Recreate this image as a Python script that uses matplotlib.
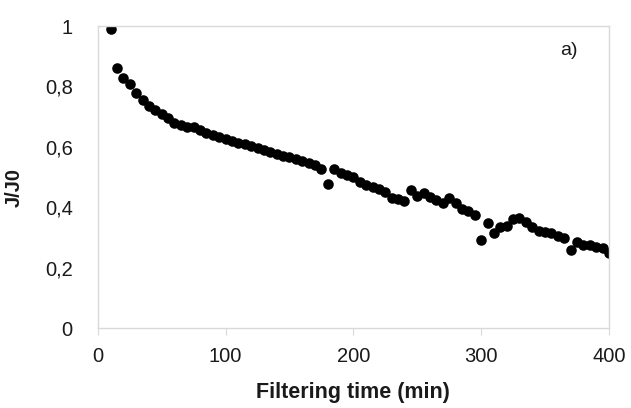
import matplotlib
matplotlib.use("Agg")
import matplotlib.pyplot as plt
from matplotlib.ticker import FuncFormatter

# Data
time_min = [10, 15, 20, 25, 30, 35, 40, 45, 50, 55, 60, 65, 70, 75, 80, 85, 90, 95,
            100, 105, 110, 115, 120, 125, 130, 135, 140, 145, 150, 155, 160, 165, 170,
            175, 180, 185, 190, 195, 200, 205, 210, 215, 220, 225, 230, 235, 240, 245,
            250, 255, 260, 265, 270, 275, 280, 285, 290, 295, 300, 305, 310, 315, 320,
            325, 330, 335, 340, 345, 350, 355, 360, 365, 370, 375, 380, 385, 390, 395, 400]
j_ratio = [0.99, 0.861, 0.828, 0.808, 0.778, 0.755, 0.735, 0.722, 0.71, 0.695, 0.68, 0.672,
           0.665, 0.665, 0.655, 0.646, 0.64, 0.634, 0.626, 0.62, 0.614, 0.608, 0.602, 0.596,
           0.59, 0.582, 0.576, 0.57, 0.565, 0.56, 0.552, 0.545, 0.54, 0.527, 0.478, 0.527,
           0.515, 0.508, 0.5, 0.484, 0.475, 0.468, 0.46, 0.452, 0.432, 0.427, 0.42, 0.458,
           0.437, 0.447, 0.435, 0.424, 0.414, 0.43, 0.414, 0.395, 0.386, 0.376, 0.29, 0.348,
           0.314, 0.335, 0.338, 0.362, 0.364, 0.352, 0.336, 0.322, 0.318, 0.314, 0.305, 0.298,
           0.258, 0.285, 0.275, 0.275, 0.268, 0.265, 0.25]

x_ticks = [0, 100, 200, 300, 400]
y_ticks = [0, 0.2, 0.4, 0.6, 0.8, 1.0]

plt.rcParams['font.family'] = ['Liberation Sans', 'DejaVu Sans']

fig = plt.figure(figsize=(6.31, 4.08), dpi=100)
ax = fig.add_axes([0.155, 0.196, 0.81, 0.74])

ax.plot(time_min, j_ratio, linestyle='none', marker='o', markersize=7.6,
        color='black', markeredgewidth=0)

ax.set_xlim(0, 400)
ax.set_ylim(0, 1)
ax.set_xticks(x_ticks)
ax.set_yticks(y_ticks)

def comma_fmt(v, pos):
    if abs(v) < 1e-9:
        return '0'
    if abs(v - 1) < 1e-9:
        return '1'
    return ('%.1f' % v).replace('.', ',')

ax.yaxis.set_major_formatter(FuncFormatter(comma_fmt))

for s in ax.spines.values():
    s.set_color('#d9d9d9')
    s.set_linewidth(1.0)

ax.tick_params(axis='x', direction='out', length=5, color='#d9d9d9',
               labelsize=14.5, labelcolor='#1a1a1a', pad=9)
ax.tick_params(axis='y', length=0, labelsize=14.5, labelcolor='#1a1a1a', pad=18)

ax.set_xlabel('Filtering time (min)', fontsize=15.5, fontweight='bold', color='#1a1a1a',
              va='center')
ax.set_ylabel('J/J0', fontsize=14.5, fontweight='bold', color='#1a1a1a',
              va='center')
ax.xaxis.set_label_coords(0.5, -0.212)
ax.yaxis.set_label_coords(-0.164, 0.464)

ax.text(369, 0.92, 'a)', fontsize=14, color='#1a1a1a', ha='center', va='center')

fig.savefig('out.png', dpi=100)
